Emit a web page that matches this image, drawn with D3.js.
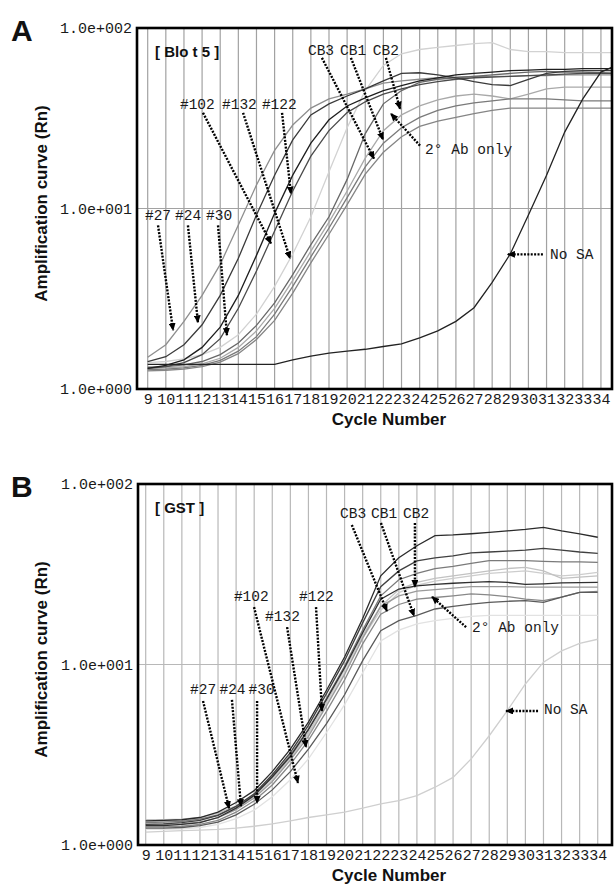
<!DOCTYPE html>
<html>
<head>
<meta charset="utf-8">
<script src="https://cdn.jsdelivr.net/npm/d3@7"></script>
<style>
  body { margin: 0; background: #fff; }
  .mono { font-family: "Liberation Mono", "DejaVu Sans Mono", monospace; fill: #1a1a1a; }
  .sans { font-family: "Liberation Sans", Arial, sans-serif; font-weight: bold; fill: #111; }
</style>
</head>
<body>
<script>
// x categories (cycles) and tick labels
const cycleTicks = [9, 10, 11, 12, 13, 14, 15, 16, 17, 18, 19, 20, 21, 22, 23, 24, 25, 26, 27, 28, 29, 30, 31, 32, 33, 34];
const cyclesA = [9, 10, 11, 12, 13, 14, 15, 16, 17, 18, 19, 20, 21, 22, 23, 24, 25, 26, 27, 28, 29, 30, 31, 32, 33, 34, 35];
const cyclesB = [9, 10, 11, 12, 13, 14, 15, 16, 17, 18, 19, 20, 21, 22, 23, 24, 25, 26, 27, 28, 29, 30, 31, 32, 33, 34];
const yTicks = [1, 10, 100];
const yTickLabels = ["1.0e+000", "1.0e+001", "1.0e+002"];

// Panel A (Blot 5) - Rn per cycle
const a132 = [1.4, 1.42, 1.47, 1.55, 1.7, 2.0, 2.6, 3.7, 5.6, 9.0, 16, 28, 45, 62, 72, 76, 78, 80, 82, 83, 76, 74, 74, 73, 73, 73, 73];
const a27 = [1.5, 1.76, 2.37, 3.3, 4.9, 8.1, 13.5, 21, 29, 36, 40.5, 43, 46, 49.5, 51, 52, 53, 53.5, 54, 54, 54, 54.5, 54.5, 55, 55, 55, 55];
const aCB2 = [1.3, 1.31, 1.33, 1.38, 1.48, 1.7, 2.1, 2.8, 4.0, 5.8, 8.4, 12.5, 19, 27, 33, 37, 40, 42, 43, 42, 40.5, 43, 46, 47, 47, 47, 47];
const aCB1 = [1.28, 1.29, 1.31, 1.35, 1.44, 1.62, 1.95, 2.6, 3.7, 5.4, 7.8, 11.5, 17, 23, 28, 32, 35, 37, 38.5, 39.5, 40.5, 40.5, 40.5, 40, 39.5, 39.5, 39.5];
const aCB3 = [1.26, 1.27, 1.29, 1.33, 1.41, 1.57, 1.88, 2.4, 3.4, 5.0, 7.2, 10.5, 15.5, 20.5, 25, 28.5, 30.5, 32, 33.5, 35, 36, 36, 36, 36, 36, 36, 36];
const aAb = [1.32, 1.33, 1.36, 1.42, 1.55, 1.8, 2.25, 3.0, 4.3, 6.3, 9.0, 14.5, 26, 38, 45, 50, 52, 53, 54, 55, 56, 57, 57.5, 57, 57, 56.5, 56];
const a122 = [1.3, 1.33, 1.4, 1.55, 1.9, 2.8, 4.5, 7.5, 12.5, 19.5, 27, 34, 39, 43, 46, 48.5, 50.5, 52, 53, 53.5, 54, 54.5, 55, 55.5, 56, 56, 56];
const a24 = [1.42, 1.51, 1.76, 2.27, 3.3, 5.3, 9.2, 15.3, 24, 33, 38, 42, 46, 51, 56, 56.5, 55, 53, 50.5, 48.5, 48, 52, 56, 57.5, 58, 58, 58];
const a30 = [1.3, 1.35, 1.45, 1.7, 2.2, 3.3, 5.5, 9.4, 15.3, 23, 31, 37, 41, 45, 48, 51, 53, 55, 56, 57, 58, 58.5, 59, 59, 59.5, 59.5, 59.5];
const aNoSA = [1.37, 1.37, 1.37, 1.37, 1.37, 1.37, 1.37, 1.37, 1.45, 1.52, 1.58, 1.62, 1.66, 1.72, 1.78, 1.92, 2.1, 2.37, 2.82, 3.9, 5.6, 9.2, 15.3, 26.5, 40.5, 57, 63];

// Panel B (GST)
const bNoSA = [1.18, 1.19, 1.2, 1.21, 1.22, 1.24, 1.27, 1.31, 1.36, 1.42, 1.47, 1.52, 1.6, 1.69, 1.76, 1.88, 2.09, 2.37, 3.0, 4.03, 5.55, 7.8, 10.3, 11.9, 13.1, 13.8];
const b102 = [1.22, 1.22, 1.23, 1.25, 1.3, 1.4, 1.56, 1.85, 2.3, 3.0, 4.2, 6.0, 9.0, 13.5, 15.5, 16.8, 17.5, 18, 18.5, 18.7, 18.7, 18.7, 18.7, 18.7, 18.7, 18.7];
const b30 = [1.35, 1.35, 1.36, 1.39, 1.46, 1.6, 1.85, 2.3, 3.0, 4.1, 6.0, 9.0, 14, 20, 25, 27.5, 29, 30, 31, 32, 32.5, 33, 32, 31, 31.5, 32.4];
const b122 = [1.38, 1.38, 1.39, 1.42, 1.5, 1.65, 1.9, 2.35, 3.05, 4.2, 6.2, 9.4, 14.5, 21, 26, 28.5, 30, 31, 32, 33, 34, 34.5, 33, 30, 30.5, 31];
const bCB3 = [1.3, 1.3, 1.31, 1.34, 1.42, 1.57, 1.82, 2.25, 2.95, 4.0, 5.9, 8.8, 14, 21, 24, 25.5, 26, 26.5, 27, 27, 27, 26.8, 26.8, 26.8, 26.8, 26.8];
const bAb = [1.26, 1.26, 1.27, 1.3, 1.37, 1.52, 1.76, 2.15, 2.8, 3.8, 5.5, 8.2, 13, 19, 21.5, 23, 23.5, 24, 24.6, 24.3, 23.8, 23, 22.6, 23.6, 25.1, 25.4];
const b24 = [1.33, 1.34, 1.35, 1.39, 1.47, 1.63, 1.9, 2.4, 3.15, 4.4, 6.5, 9.8, 15.5, 24, 29.5, 32, 34, 35, 36.3, 37.6, 37.6, 37.6, 37.3, 37, 37, 36.8];
const b132 = [1.24, 1.24, 1.25, 1.28, 1.34, 1.47, 1.68, 2.02, 2.55, 3.4, 4.7, 6.8, 10.5, 15.4, 17.5, 18.7, 20.3, 21, 21.6, 22.1, 22.4, 22.6, 22.1, 23.6, 25.1, 25.1];
const bCB1 = [1.3, 1.31, 1.33, 1.37, 1.46, 1.64, 1.92, 2.45, 3.25, 4.6, 6.9, 10.5, 17, 27, 33, 37.5, 39, 40, 41.5, 42, 42.5, 43, 44, 43, 42, 41.3];
const bCB2 = [1.28, 1.28, 1.3, 1.33, 1.42, 1.6, 1.88, 2.38, 3.1, 4.35, 6.4, 9.6, 15, 23, 26.2, 27.3, 27.8, 28.2, 28.5, 28.8, 28.5, 27.8, 28, 28.3, 28.4, 28.5];
const b27 = [1.36, 1.37, 1.38, 1.42, 1.52, 1.72, 2.0, 2.55, 3.4, 4.8, 7.2, 11, 18, 31, 39, 45.5, 51.7, 52.2, 53, 54, 55, 56, 57.5, 55, 53, 50.7];

const seriesA = [a132, a27, aCB2, aCB1, aCB3, aAb, a122, a24, a30, aNoSA];
const colorsA = ["#d2d2d2", "#8e8e8e", "#a9a9a9", "#7a7a7a", "#858585", "#686868", "#4a4a4a", "#3a3a3a", "#1e1e1e", "#222"];
const seriesB = [bNoSA, b102, b30, b122, bCB3, bAb, b24, b132, bCB1, bCB2, b27];
const colorsB = ["#cfcfcf", "#e2e2e2", "#cdcdcd", "#c2c2c2", "#9a9a9a", "#888", "#7a7a7a", "#5a5a5a", "#404040", "#303030", "#2a2a2a"];

// annotation labels and arrows, in (cycle, Rn) units
const labelsA = [
  { text: "#102", c: 10.78, v: 35.7 }, { text: "#132", c: 13.1, v: 35.7 }, { text: "#122", c: 15.3, v: 35.7 },
  { text: "#27", c: 8.85, v: 8.59 }, { text: "#24", c: 10.51, v: 8.59 }, { text: "#30", c: 12.22, v: 8.59 },
  { text: "CB3", c: 17.84, v: 70.9 }, { text: "CB1", c: 19.61, v: 70.9 }, { text: "CB2", c: 21.42, v: 70.9 },
  { text: "2° Ab only", c: 24.3, v: 20.1 }, { text: "No SA", c: 31.19, v: 5.23 }
];
const arrowsA = [
  [9.57, 8.06, 10.4, 2.12], [11.22, 8.06, 11.77, 2.34], [12.88, 8.06, 13.37, 1.99],
  [12.05, 33.9, 15.8, 6.41], [14.26, 33.9, 16.85, 5.29], [16.41, 33.9, 16.9, 12.1],
  [18.61, 68.3, 21.48, 18.9], [20.21, 68.3, 21.98, 24.1], [22.14, 68.3, 22.92, 35.7],
  [24.02, 22.3, 22.42, 33.5], [30.8, 5.57, 28.87, 5.57]
];
const labelsB = [
  { text: "#102", c: 13.88, v: 22.5 }, { text: "#132", c: 15.6, v: 17.4 }, { text: "#122", c: 17.48, v: 22.5 },
  { text: "#27", c: 11.45, v: 6.86 }, { text: "#24", c: 13.08, v: 6.86 }, { text: "#30", c: 14.69, v: 6.86 },
  { text: "CB3", c: 19.75, v: 64.8 }, { text: "CB1", c: 21.46, v: 64.8 }, { text: "CB2", c: 23.23, v: 64.8 },
  { text: "2° Ab only", c: 27.05, v: 15.1 }, { text: "No SA", c: 31.03, v: 5.32 }
];
const arrowsB = [
  [12.17, 6.28, 13.61, 1.6], [13.77, 6.36, 14.27, 1.64], [15.16, 6.28, 15.16, 1.71],
  [14.99, 20.8, 17.42, 2.21], [16.82, 16.1, 17.87, 3.49], [18.42, 20.8, 18.75, 5.53],
  [20.4, 59.3, 22.34, 19.8], [22.01, 60.8, 23.84, 18.6], [23.89, 60.8, 23.89, 26.9],
  [26.72, 16.1, 24.84, 23.7], [30.7, 5.53, 28.93, 5.53]
];

const svg = d3.select("body").append("svg").attr("width", 614).attr("height", 884);

svg.append("defs")
  .append("marker")
  .attr("id", "head")
  .attr("markerUnits", "userSpaceOnUse")
  .attr("viewBox", "0 0 8 7")
  .attr("markerWidth", 8)
  .attr("markerHeight", 7)
  .attr("refX", 7)
  .attr("refY", 3.5)
  .attr("orient", "auto")
  .append("path")
  .attr("d", "M0,0L8,3.5L0,7Z")
  .attr("fill", "#000");

const panels = [
  { id: "A", tag: "[ Blo t 5 ]", left: 137, right: 612, top: 28, bottom: 389, xDomain: [8.41, 34.61],
    cycles: cyclesA, series: seriesA, colors: colorsA, labels: labelsA, arrows: arrowsA, grid: "#a2a2a2" },
  { id: "B", tag: "[ GST ]", left: 138, right: 612, top: 484, bottom: 845, xDomain: [8.574, 34.79],
    cycles: cyclesB, series: seriesB, colors: colorsB, labels: labelsB, arrows: arrowsB, grid: "#b8b8b8" }
];

panels.forEach((p) => {
  const x = d3.scaleLinear().domain(p.xDomain).range([p.left, p.right]);
  const y = d3.scaleLog().domain([1, 100]).range([p.bottom, p.top]);
  const g = svg.append("g");

  g.append("clipPath")
    .attr("id", "clip" + p.id)
    .append("rect")
    .attr("x", p.left)
    .attr("y", p.top)
    .attr("width", p.right - p.left)
    .attr("height", p.bottom - p.top);

  // grid
  g.selectAll(".vgrid")
    .data(cycleTicks)
    .join("line")
    .attr("x1", (d) => x(d))
    .attr("x2", (d) => x(d))
    .attr("y1", p.top)
    .attr("y2", p.bottom)
    .attr("stroke", p.grid)
    .attr("stroke-width", 1.2);
  g.append("line")
    .attr("x1", p.left)
    .attr("x2", p.right)
    .attr("y1", y(10))
    .attr("y2", y(10))
    .attr("stroke", p.grid)
    .attr("stroke-width", 1.2);

  // amplification curves
  const line = d3.line()
    .x((d, i) => x(p.cycles[i]))
    .y((d) => y(d));
  g.append("g")
    .attr("clip-path", `url(#clip${p.id})`)
    .selectAll("path")
    .data(p.series)
    .join("path")
    .attr("d", line)
    .attr("fill", "none")
    .attr("stroke", (d, i) => p.colors[i])
    .attr("stroke-width", 1.3);

  // frame
  g.append("rect")
    .attr("x", p.left)
    .attr("y", p.top)
    .attr("width", p.right - p.left)
    .attr("height", p.bottom - p.top)
    .attr("fill", "none")
    .attr("stroke", "#000")
    .attr("stroke-width", 2.6);

  // axes
  const xAxis = g.append("g")
    .attr("transform", `translate(0,${p.bottom})`)
    .call(d3.axisBottom(x).tickValues(cycleTicks).tickSize(0).tickPadding(4).tickFormat(d3.format("d")));
  xAxis.select(".domain").remove();
  xAxis.selectAll("text").attr("class", "mono").style("font-size", "15px");

  const yAxis = g.append("g")
    .attr("transform", `translate(${p.left},0)`)
    .call(d3.axisLeft(y).tickValues(yTicks).tickSize(0).tickPadding(5).tickFormat((d, i) => yTickLabels[i]));
  yAxis.select(".domain").remove();
  yAxis.selectAll("text").attr("class", "mono").style("font-size", "15px");

  // titles
  g.append("text")
    .attr("class", "sans")
    .attr("x", 11)
    .attr("y", p.top + 13)
    .style("font-size", "30px")
    .text(p.id);
  g.append("text")
    .attr("class", "sans")
    .attr("x", 155)
    .attr("y", p.top + 29)
    .style("font-size", "15px")
    .text(p.tag);
  g.append("text")
    .attr("class", "sans")
    .attr("text-anchor", "middle")
    .attr("transform", `translate(47,${(p.top + p.bottom) / 2 - 5}) rotate(-90)`)
    .style("font-size", "17px")
    .text("Amplification curve (Rn)");
  g.append("text")
    .attr("class", "sans")
    .attr("text-anchor", "middle")
    .attr("x", 389)
    .attr("y", p.bottom + 35.5)
    .style("font-size", "17px")
    .text("Cycle Number");

  // annotations
  g.selectAll(".arrow")
    .data(p.arrows)
    .join("line")
    .attr("x1", (d) => x(d[0]))
    .attr("y1", (d) => y(d[1]))
    .attr("x2", (d) => x(d[2]))
    .attr("y2", (d) => y(d[3]))
    .attr("stroke", "#000")
    .attr("stroke-width", 2.4)
    .attr("stroke-dasharray", "2,1.4")
    .attr("marker-end", "url(#head)");

  g.selectAll(".label")
    .data(p.labels)
    .join("text")
    .attr("class", "mono")
    .attr("x", (d) => x(d.c))
    .attr("y", (d) => y(d.v))
    .style("font-size", "14.5px")
    .style("white-space", "pre")
    .text((d) => d.text);
});
</script>
</body>
</html>
